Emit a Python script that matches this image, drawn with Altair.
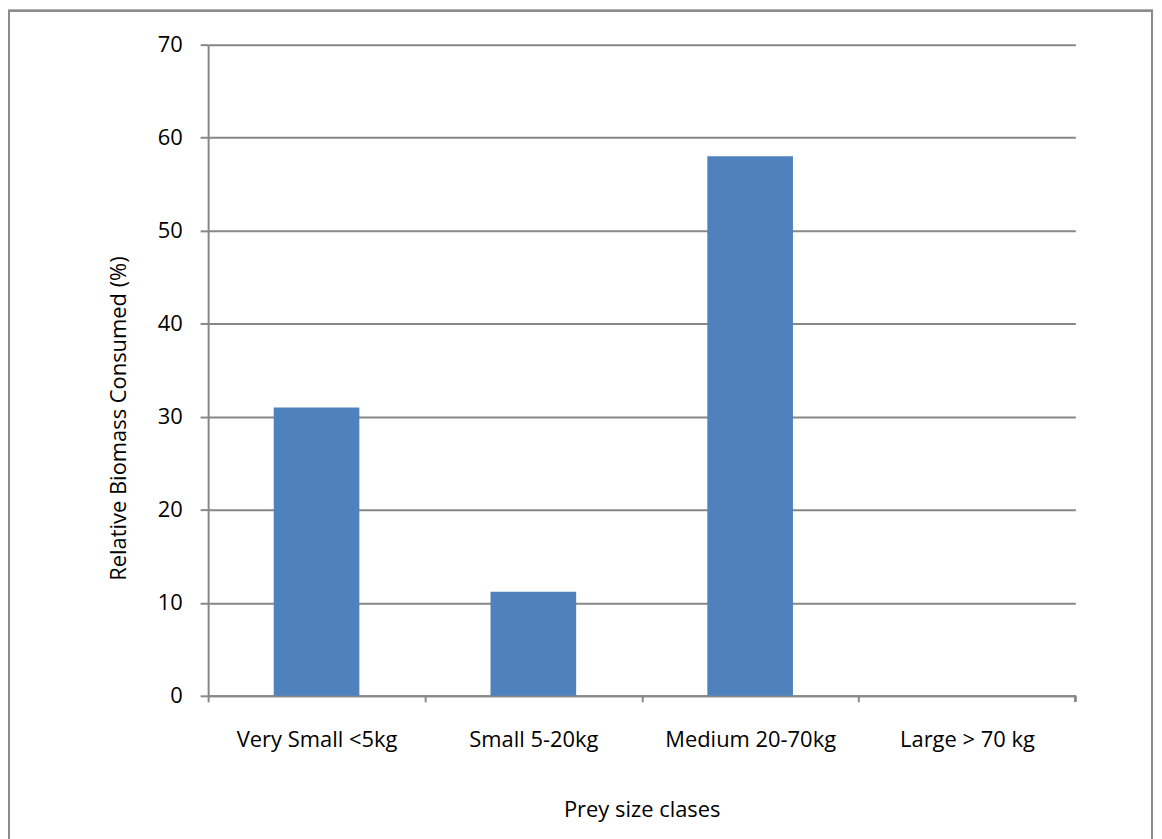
import altair as alt
import pandas as pd

categories = ["Very Small <5kg", "Small 5-20kg", "Medium 20-70kg", "Large > 70 kg"]
values = [31.0, 11.2, 58.0, 0.0]
y_ticks = [0, 10, 20, 30, 40, 50, 60, 70]

df = pd.DataFrame({"cat": categories, "val": values})

W, H = 871, 654
GRAY = "#878787"
FONT = "Open Sans"
FS = 22
step = W / len(categories)
p = 0.605

bars = alt.Chart(df).mark_bar(color="#4F81BD").encode(
    x=alt.X("cat:N", sort=categories,
            scale=alt.Scale(paddingInner=p, paddingOuter=p / 2),
            axis=alt.Axis(title="Prey size clases", labelAngle=0,
                          tickOffset=-step / 2, labelOffset=step / 2,
                          tickSize=6, tickColor=GRAY, tickWidth=2,
                          domainColor=GRAY, domainWidth=2,
                          labelPadding=28, labelFont=FONT, labelFontSize=FS,
                          labelColor="black",
                          titleFont=FONT, titleFontSize=FS, titleFontWeight="normal",
                          titleColor="black", titleY=121, titleBaseline="alphabetic",
                          grid=False)),
    y=alt.Y("val:Q", scale=alt.Scale(domain=[0, 70], nice=False),
            axis=alt.Axis(title="Relative Biomass Consumed (%)", values=y_ticks,
                          tickSize=8, tickColor=GRAY, tickWidth=2,
                          domainColor=GRAY, domainWidth=2,
                          gridColor=GRAY, gridWidth=2, grid=True,
                          labelPadding=18, labelFont=FONT, labelFontSize=FS,
                          labelColor="black",
                          titleFont=FONT, titleFontSize=FS, titleFontWeight="normal",
                          titleColor="black", titleAngle=-90,
                          titleX=-83, titleY=375, titleBaseline="alphabetic",
                          titleAlign="center")),
)

end_tick = alt.Chart(df).mark_rule(color=GRAY, strokeWidth=2).encode(
    x=alt.value(W), y=alt.value(H), y2=alt.value(H + 6)
)

frame = alt.Chart(df).mark_rect(fillOpacity=0, stroke="#8c8c8c", strokeWidth=2).encode(
    x=alt.value(-200), x2=alt.value(W + 77), y=alt.value(-34), y2=alt.value(H + 170)
)

chart = alt.layer(bars, end_tick, frame).properties(
    width=W, height=H,
    autosize=alt.AutoSizeParams(type="none"),
    padding={"left": 201, "top": 35, "right": 79, "bottom": 151},
).configure_view(stroke=None)

chart.save("out.html", embed_options={"renderer": "svg", "actions": False})
